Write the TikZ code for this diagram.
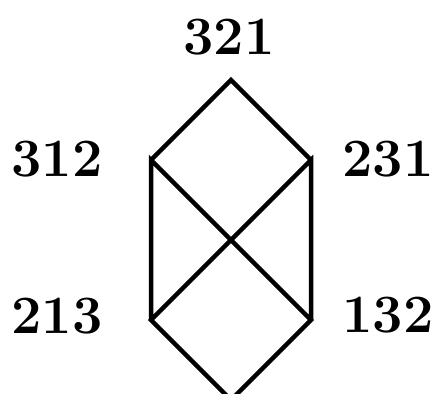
\documentclass[tikz,border=0pt]{standalone}
\begin{document}
\begin{tikzpicture}[x=1pt,y=-1pt,
  lbl/.style={inner sep=0pt,font=\fontsize{54}{64}\selectfont\bfseries},
  edge/.style={line width=4.5pt,line join=miter,line cap=butt}]
\useasboundingbox (0,0) rectangle (437,394);
\coordinate (t) at (231,80);
\coordinate (lu) at (151,160);
\coordinate (ru) at (311,160);
\coordinate (ll) at (151,320);
\coordinate (rl) at (311,320);
\coordinate (b) at (231,400);
\draw[edge] (lu) -- (t) -- (ru);
\draw[edge] (ll) -- (lu) -- (rl) -- (b) -- (ll) -- (ru) -- (rl);
\node[lbl] (n321) at (229,37) {321};
\node[lbl] (n312) at (57,159) {312};
\node[lbl] (n231) at (388,159) {231};
\node[lbl] (n213) at (57,316) {213};
\node[lbl] (n132) at (388,315) {132};
\end{tikzpicture}
\end{document}
